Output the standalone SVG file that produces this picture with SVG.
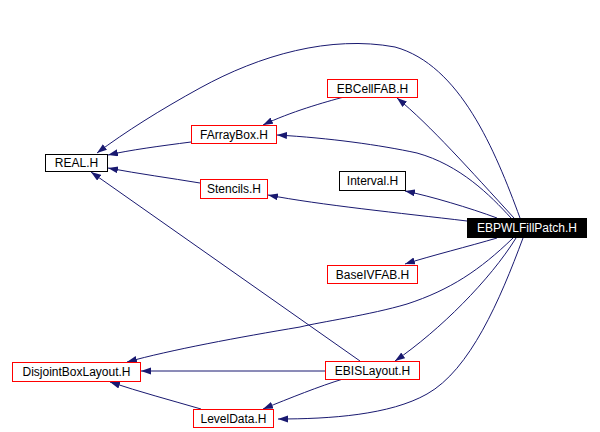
<svg xmlns="http://www.w3.org/2000/svg" width="600" height="432" viewBox="0 0 600 432">
<defs>
<marker id="arr" markerUnits="userSpaceOnUse" markerWidth="11" markerHeight="8" refX="10" refY="3.5" orient="auto">
<path d="M0,0 L10,3.5 L0,7 z" fill="#191970"/>
</marker>
<style>
.e{fill:none;stroke:#191970;stroke-width:1;marker-end:url(#arr)}
.n rect{fill:#fff;stroke-width:1}
.r rect{stroke:#ff0000}
.b rect{stroke:#000}
text{font-family:"Liberation Sans",Arial,sans-serif;font-size:12px;text-anchor:middle;fill:#000}
</style>
</defs>
<rect width="600" height="432" fill="#fff"/>
<g id="edges">
<path class="e" d="M520,218 C495,150 460,65 395,47 C330,35 260,55 200,88 C160,110 125,132 97,153"/>
<path class="e" d="M514,218 C470,170 430,125 397,98"/>
<path class="e" d="M511,218 C490,195 460,165 417,153 C380,145 330,138 277,135"/>
<path class="e" d="M344,97 C325,102 290,112 263,125"/>
<path class="e" d="M191,142 C160,146 130,150 108,155"/>
<path class="e" d="M200,183 C170,178 140,174 108,168"/>
<path class="e" d="M467,221 C400,213 320,205 268,195"/>
<path class="e" d="M497,218 C470,208 430,196 405,191"/>
<path class="e" d="M497,238 C470,246 430,256 405,264"/>
<path class="e" d="M513,238 C480,270 450,290 407,304 C370,315 320,322 300,327 C240,337 170,350 127,362"/>
<path class="e" d="M516,238 C490,280 440,330 395,361"/>
<path class="e" d="M523,238 C500,300 470,370 427,394 C390,415 330,419 278,419"/>
<path class="e" d="M360,361 L91,172"/>
<path class="e" d="M325,371 L141,371"/>
<path class="e" d="M343,379 C320,386 290,398 263,409"/>
<path class="e" d="M201,409 C170,400 140,392 110,382"/>
</g>
<g id="n_real" class="n b"><rect x="45.5" y="154.5" width="62" height="17"/><text x="76.5" y="167">REAL.H</text></g>
<g id="n_farraybox" class="n r"><rect x="191.5" y="125.5" width="85" height="18"/><text x="234" y="139">FArrayBox.H</text></g>
<g id="n_stencils" class="n r"><rect x="200.5" y="179.5" width="67" height="19"/><text x="234" y="193">Stencils.H</text></g>
<g id="n_ebcellfab" class="n r"><rect x="327.5" y="79.5" width="90" height="18"/><text x="372.5" y="93">EBCellFAB.H</text></g>
<g id="n_interval" class="n b"><rect x="339.5" y="171.5" width="66" height="19"/><text x="372.5" y="185">Interval.H</text></g>
<g id="n_ebpwl"><rect x="467" y="218" width="120" height="20" fill="#000"/><text x="527" y="232" style="fill:#fff">EBPWLFillPatch.H</text></g>
<g id="n_baseivfab" class="n r"><rect x="327.5" y="265.5" width="90" height="18"/><text x="372.5" y="279">BaseIVFAB.H</text></g>
<g id="n_ebislayout" class="n r"><rect x="325.5" y="361.5" width="94" height="18"/><text x="372.5" y="375">EBISLayout.H</text></g>
<g id="n_dbl" class="n r"><rect x="12.5" y="362.5" width="128" height="19"/><text x="76.5" y="376">DisjointBoxLayout.H</text></g>
<g id="n_leveldata" class="n r"><rect x="193.5" y="409.5" width="80" height="18"/><text x="233.5" y="423">LevelData.H</text></g>
</svg>
